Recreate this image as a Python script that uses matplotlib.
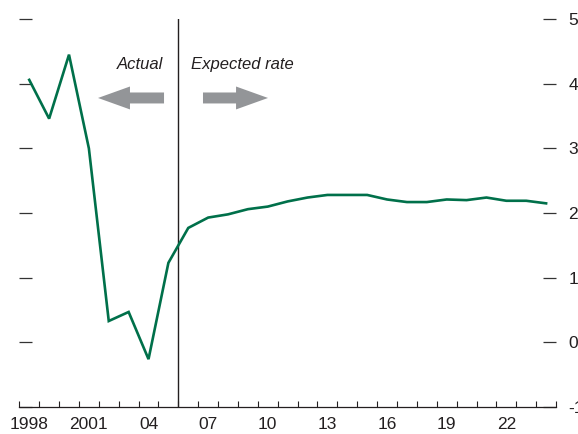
import numpy as np
import matplotlib
matplotlib.use('Agg')
import matplotlib.pyplot as plt
from matplotlib.ticker import FixedLocator, NullFormatter

plt.rcParams['font.family'] = ['Liberation Sans Narrow', 'Liberation Sans', 'DejaVu Sans']

# data
years = list(range(1998, 2025))
rate = [4.06, 3.46, 4.45, 3.00, 0.33, 0.47, -0.26, 1.23, 1.77, 1.93, 1.98, 2.06, 2.10,
        2.18, 2.24, 2.28, 2.28, 2.28, 2.21, 2.17, 2.17, 2.21, 2.20, 2.24, 2.19, 2.19, 2.15]
tick_years = [1998, 2001, 2004, 2007, 2010, 2013, 2016, 2019, 2022]
tick_labels = ['1998', '2001', '04', '07', '10', '13', '16', '19', '22']
y_ticks = [-1, 0, 1, 2, 3, 4, 5]
split_year = 2005.5

green = '#00704a'
grey = '#939598'

fig = plt.figure(figsize=(5.78, 4.34), dpi=100)
ax = fig.add_axes([0.0334, 0.0622, 0.962 - 0.0334, 0.956 - 0.0622])

ax.plot(years, rate, color=green, lw=1.9, solid_joinstyle='miter', zorder=3)
ax.axvline(split_year, color='#231f20', lw=1.0, zorder=2)

ax.set_xlim(1997.5, 2024.5)
ax.set_ylim(-1, 5)

for s in ['top', 'left', 'right']:
    ax.spines[s].set_visible(False)
ax.spines['bottom'].set_linewidth(0.9)
ax.spines['bottom'].set_color('#231f20')

# x axis: labels on years, small ticks on year boundaries
ax.set_xticks(tick_years)
ax.set_xticklabels(tick_labels)
ax.xaxis.set_minor_locator(FixedLocator(np.arange(1997.5, 2025, 1.0)))
ax.xaxis.set_minor_formatter(NullFormatter())
ax.tick_params(axis='x', which='major', length=0, pad=7, labelsize=12.5, colors='#231f20')
ax.tick_params(axis='x', which='minor', direction='in', length=4.3, width=0.8, color='#231f20')

# y axis: dashes both sides, labels on right only
ax.set_yticks(y_ticks)
ax.set_yticklabels([f'{v}' for v in y_ticks])
ax.tick_params(axis='y', direction='in', length=9.4, width=0.9, color='#333333',
               left=True, right=True, labelleft=False, labelright=True,
               pad=9, labelsize=12.5, labelcolor='#231f20')

# annotations
ax.text(2004.73, 4.3, 'Actual', ha='right', va='center', style='italic',
        fontsize=12, color='#231f20')
ax.text(2006.14, 4.3, 'Expected rate', ha='left', va='center', style='italic',
        fontsize=12, color='#231f20')

arrow_style = 'simple,head_length=23,head_width=16.5,tail_width=7.9'
ax.annotate('', xy=(2001.46, 3.78), xytext=(2004.78, 3.78),
            arrowprops=dict(arrowstyle=arrow_style, color=grey, lw=0,
                            shrinkA=0, shrinkB=0, mutation_scale=1))
ax.annotate('', xy=(2010.01, 3.78), xytext=(2006.74, 3.78),
            arrowprops=dict(arrowstyle=arrow_style, color=grey, lw=0,
                            shrinkA=0, shrinkB=0, mutation_scale=1))

fig.savefig('out.png', dpi=100)
